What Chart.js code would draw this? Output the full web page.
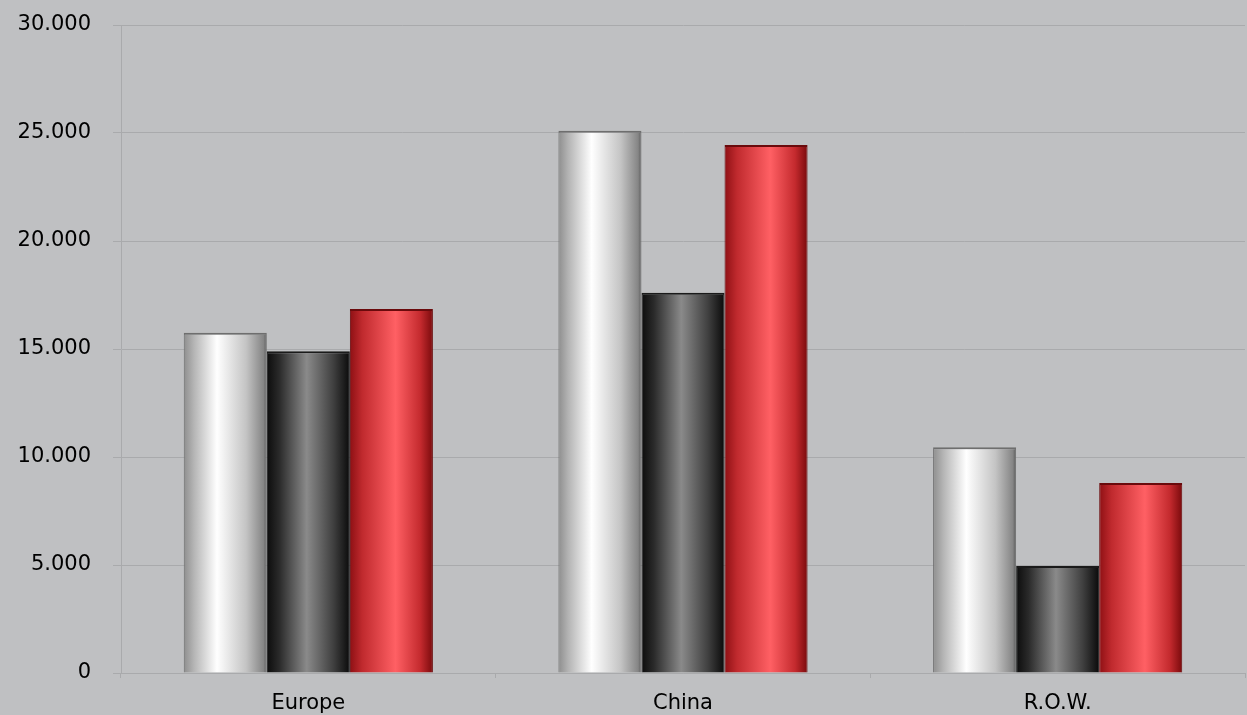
<!DOCTYPE html>
<html>
<head>
<meta charset="utf-8">
<script src="https://cdn.jsdelivr.net/npm/chart.js@4.4.1/dist/chart.umd.min.js"></script>
<style>
  html, body { margin: 0; padding: 0; background: #bfc0c2; }
  #wrap { width: 1247px; height: 715px; }
</style>
</head>
<body>
<div id="wrap"><canvas id="barChart"></canvas></div>
<script>
// chart data
const categories = ['Europe', 'China', 'R.O.W.'];
const silverValues = [15750, 25100, 10450];
const darkValues = [14900, 17600, 4950];
const redValues = [16850, 24450, 8800];
const yTicks = [0, 5000, 10000, 15000, 20000, 25000, 30000];

const CAT_PCT = 0.665;

// cylinder-like colour stops for each series
const shades = [
    [[0, '#8e8e8e'], [0.12, '#b4b4b4'], [0.4, '#ffffff'], [0.75, '#c4c4c4'], [0.96, '#858585'], [1, '#5a5a5a']],
    [[0, '#0c0c0c'], [0.15, '#2a2a2a'], [0.48, '#8a8a8a'], [0.8, '#404040'], [1, '#0a0a0a']],
    [[0, '#8e1014'], [0.15, '#c02a2e'], [0.55, '#ff6064'], [0.85, '#c42a2e'], [1, '#7a0a0c']]
];

function barGradient(ctx) {
    const chart = ctx.chart;
    const xs = chart.scales && chart.scales.x;
    const stops = shades[ctx.datasetIndex];
    if (!xs || !chart.chartArea) return stops[2][1];
    const catW = xs.width / categories.length;
    const groupW = catW * CAT_PCT;
    const barW = groupW / 3;
    const center = xs.getPixelForValue(ctx.dataIndex);
    const left = center - groupW / 2 + ctx.datasetIndex * barW;
    const g = chart.ctx.createLinearGradient(left, 0, left + barW, 0);
    stops.forEach(s => g.addColorStop(s[0], s[1]));
    return g;
}

const tickFont = { family: 'DejaVu Sans', size: 21 };

new Chart(document.getElementById('barChart'), {
    type: 'bar',
    data: {
        labels: categories,
        datasets: [
            { label: 'Silver', data: silverValues, borderColor: '#6e6e6e' },
            { label: 'Dark', data: darkValues, borderColor: '#1a1a1a' },
            { label: 'Red', data: redValues, borderColor: '#6a0a0c' }
        ].map(d => Object.assign(d, {
            backgroundColor: barGradient,
            borderWidth: { top: 2, left: 1, right: 1, bottom: 0 },
            barPercentage: 1,
            categoryPercentage: CAT_PCT
        }))
    },
    options: {
        responsive: true,
        maintainAspectRatio: false,
        animation: false,
        layout: { padding: { top: 25, right: 2, left: 0, bottom: 0 } },
        plugins: {
            legend: { display: false },
            tooltip: { enabled: false }
        },
        scales: {
            x: {
                offset: true,
                grid: {
                    offset: true,
                    drawOnChartArea: false,
                    color: '#a9aaac',
                    tickLength: 5
                },
                border: { color: '#a9aaac' },
                ticks: { color: '#000', font: tickFont, padding: 13 },
                afterFit: s => { s.height = 42; s.paddingLeft = 0; s.paddingRight = 0; }
            },
            y: {
                min: 0,
                max: 30000,
                afterBuildTicks: s => { s.ticks = yTicks.map(v => ({ value: v })); },
                grid: { color: '#a9aaac', tickLength: 8 },
                border: { color: '#a9aaac' },
                ticks: {
                    color: '#000',
                    font: tickFont,
                    padding: 22,
                    callback: v => v.toLocaleString('de-DE', { minimumFractionDigits: 0 }).replace(',', '.')
                },
                afterFit: s => { s.width = 121; s.paddingTop = 0; s.paddingBottom = 0; }
            }
        }
    }
});
</script>
</body>
</html>
